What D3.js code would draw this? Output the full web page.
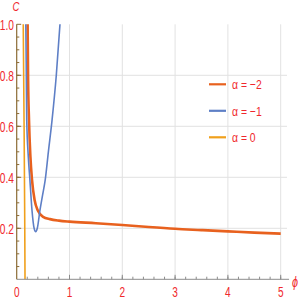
<!DOCTYPE html>
<html>
<head>
<meta charset="utf-8">
<script src="https://cdn.jsdelivr.net/npm/d3@7"></script>
<style>
  body { margin: 0; background: #fff; }
  text { font-family: "Liberation Sans", "DejaVu Sans", sans-serif; }
</style>
</head>
<body>
<div id="chart"></div>
<script>
// curve samples (phi, C)
const phiA2 = [0.205, 0.215, 0.233, 0.26, 0.29, 0.34, 0.4, 0.5, 0.63, 0.8, 1, 1.5, 2, 2.5, 3, 3.5, 4, 4.5, 5];
const cA2   = [1.05, 0.8, 0.625, 0.48, 0.39, 0.31, 0.27, 0.245, 0.236, 0.23, 0.226, 0.22, 0.213, 0.205, 0.198, 0.193, 0.188, 0.183, 0.179];
const phiA1 = [0.17, 0.18, 0.19, 0.22, 0.25, 0.29, 0.33, 0.36, 0.39, 0.44, 0.49, 0.54, 0.6, 0.67, 0.75, 0.83];
const cA1   = [1.05, 0.85, 0.625, 0.48, 0.39, 0.27, 0.2, 0.187, 0.2, 0.27, 0.33, 0.39, 0.5, 0.625, 0.8, 1.03];
const phiA0 = [0.122, 0.14, 0.15, 0.157, 0.158];
const cA0   = [1.05, 0.6, 0.3, 0.02, -0.05];

const legendLabels = ["α = −2", "α = −1", "α = 0"];
const xTicks = [0, 1, 2, 3, 4, 5];
const yTicks = [0.2, 0.4, 0.6, 0.8, 1.0];

const width = 300, height = 300;
const colors = ["#e8611e", "#5e7fc6", "#f0a01c"];
const widths = [2.6, 1.6, 1.6];
const red = "#f0282d";
const squeeze = 0.68; // the reference font is tall and narrow

const svg = d3.select("#chart").append("svg")
  .attr("width", width)
  .attr("height", height);

const x = d3.scaleLinear().domain([0, 5]).range([16.7, 280.7]);
const y = d3.scaleLinear().domain([0, 1]).range([279.3, 24.3]);
const xMax = 5.12;

// grid
svg.append("g").selectAll("line")
  .data([1, 2, 3, 4, 5]).enter().append("line")
  .attr("x1", d => x(d)).attr("x2", d => x(d))
  .attr("y1", y(1)).attr("y2", y(0))
  .attr("stroke", "#e2e2e2").attr("stroke-width", 1);
svg.append("g").selectAll("line")
  .data([0.2, 0.4, 0.6, 0.8]).enter().append("line")
  .attr("x1", x(0)).attr("x2", x(xMax))
  .attr("y1", d => y(d)).attr("y2", d => y(d))
  .attr("stroke", "#e2e2e2").attr("stroke-width", 1);

// curves
svg.append("clipPath").attr("id", "clip")
  .append("rect")
  .attr("x", x(0)).attr("y", y(1))
  .attr("width", x(xMax) - x(0)).attr("height", y(0) - y(1));

const line = d3.line()
  .x(d => x(d[0])).y(d => y(d[1]))
  .curve(d3.curveMonotoneX);

const series = [d3.zip(phiA2, cA2), d3.zip(phiA1, cA1), d3.zip(phiA0, cA0)];
svg.append("g").attr("clip-path", "url(#clip)")
  .selectAll("path")
  .data(series).enter().append("path")
  .attr("d", line)
  .attr("fill", "none")
  .attr("stroke", (d, i) => colors[i])
  .attr("stroke-width", (d, i) => widths[i]);

// x axis
const xAxis = svg.append("g").attr("transform", `translate(0,${y(0)})`);
xAxis.append("line")
  .attr("x1", x(0)).attr("x2", x(xMax) + 2)
  .attr("stroke", "#8c8c8c");
xAxis.selectAll(".minor")
  .data(d3.range(0.2, 5.01, 0.2)).enter().append("line")
  .attr("x1", d => x(d)).attr("x2", d => x(d))
  .attr("y1", 0).attr("y2", -2.6)
  .attr("stroke", "#8c8c8c");
xAxis.selectAll(".major")
  .data(xTicks.slice(1)).enter().append("line")
  .attr("x1", d => x(d)).attr("x2", d => x(d))
  .attr("y1", 0).attr("y2", -4.5)
  .attr("stroke", "#8c8c8c");
xAxis.selectAll("text")
  .data(xTicks).enter().append("text")
  .attr("transform", d => `translate(${x(d)},17.2) scale(0.72,1)`)
  .attr("text-anchor", "middle")
  .attr("font-size", 14)
  .attr("fill", red)
  .text(d => d);

// y axis
const axisColor = "#8b6b35";
const yAxis = svg.append("g");
yAxis.append("line")
  .attr("x1", x(0)).attr("x2", x(0))
  .attr("y1", y(0)).attr("y2", y(1))
  .attr("stroke", axisColor).attr("stroke-width", 1.2);
yAxis.selectAll(".minor")
  .data(d3.range(0.05, 1.0, 0.05)).enter().append("line")
  .attr("x1", x(0)).attr("x2", x(0) + 2.6)
  .attr("y1", d => y(d)).attr("y2", d => y(d))
  .attr("stroke", axisColor);
yAxis.selectAll(".major")
  .data(yTicks).enter().append("line")
  .attr("x1", x(0)).attr("x2", x(0) + 4.5)
  .attr("y1", d => y(d)).attr("y2", d => y(d))
  .attr("stroke", axisColor);
yAxis.selectAll("text")
  .data(yTicks).enter().append("text")
  .attr("transform", d => `translate(14,${y(d) + 5.5}) scale(${squeeze},1)`)
  .attr("text-anchor", "end")
  .attr("font-size", 15)
  .attr("fill", red)
  .text(d => d.toFixed(1));

// axis titles
svg.append("text")
  .attr("transform", `translate(16,11.2) scale(0.8,1)`)
  .attr("text-anchor", "middle")
  .attr("font-size", 12).attr("font-style", "italic")
  .attr("fill", red)
  .text("C");
svg.append("text")
  .attr("transform", `translate(292,287) scale(0.72,1)`)
  .attr("font-size", 15).attr("font-style", "italic")
  .attr("fill", red)
  .text("ϕ");

// legend
const legend = svg.append("g").selectAll("g")
  .data(legendLabels).enter().append("g")
  .attr("transform", (d, i) => `translate(209,${84.3 + i * 26.5})`);
legend.append("line")
  .attr("x1", 0).attr("x2", 17)
  .attr("stroke", (d, i) => colors[i])
  .attr("stroke-width", 2.2);
legend.append("text")
  .attr("transform", `translate(23,4.8) scale(0.8,1)`)
  .attr("font-size", 13)
  .attr("fill", red)
  .text(d => d);
</script>
</body>
</html>
